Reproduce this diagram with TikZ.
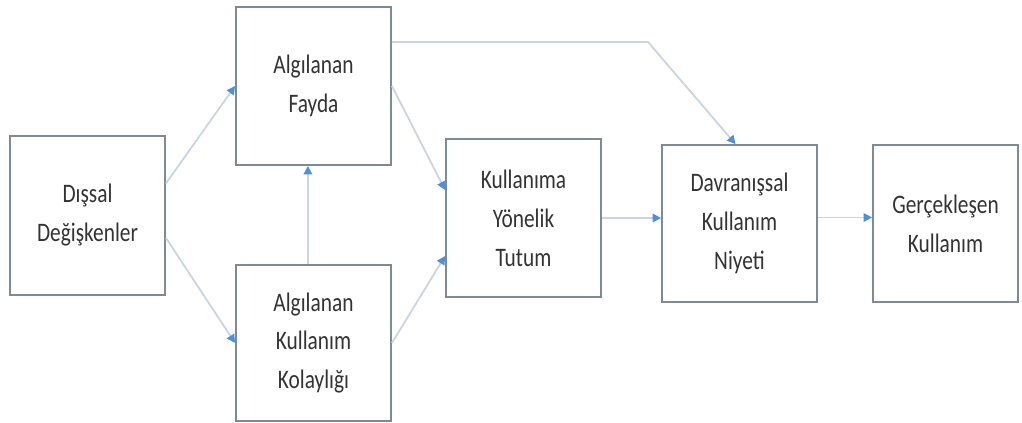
\documentclass[tikz,border=0pt]{standalone}
\usepackage{fontspec}
\setmainfont{Carlito}[FakeStretch=0.8]
\usetikzlibrary{arrows.meta}
\definecolor{boxgray}{HTML}{7D8A97}
\definecolor{linegray}{HTML}{C9D6DF}
\definecolor{tipblue}{HTML}{4F8FD6}
\definecolor{txtgray}{HTML}{333333}
\begin{document}
\begin{tikzpicture}[
  box/.style={draw=boxgray, line width=1.3pt, fill=white, align=center, text=txtgray,
    font=\fontsize{19}{27.7}\selectfont, minimum width=3.875cm, inner sep=0pt},
  arr/.style={draw=linegray, line width=1.3pt, -{Triangle[color=tipblue,length=6pt,width=6pt]}}]
\useasboundingbox (0,0) rectangle (25.55,10.575);
\node[box, minimum height=3.975cm] (D) at (2.1875,5.1875) {Dışsal\\Değişkenler};
\node[box, minimum height=3.95cm] (AF) at (7.8375,8.425) {Algılanan\\Fayda};
\node[box, minimum height=3.9cm] (AK) at (7.8375,2.0) {Algılanan\\Kullanım\\Kolaylığı};
\node[box, minimum height=3.95cm] (KT) at (13.0875,5.125) {Kullanıma\\Yönelik\\Tutum};
\node[box, minimum height=3.925cm] (DKN) at (18.4875,4.9875) {Davranışsal\\Kullanım\\Niyeti};
\node[box, minimum height=3.925cm, minimum width=3.625cm] (G) at (23.6375,4.9875) {Gerçekleşen\\Kullanım};
\coordinate (bend) at (16.2,9.525);
\draw[arr] ([yshift=0.8cm]D.east) -- (AF.west);
\draw[arr] ([yshift=-0.56cm]D.east) -- (AK.west);
\draw[arr] ([xshift=-0.14cm]AK.north) -- ([xshift=-0.14cm]AF.south);
\draw[arr] (AF.east) -- ([yshift=0.7cm]KT.west);
\draw[arr] (AK.east) -- ([yshift=-0.95cm]KT.west);
\draw[arr] ([yshift=1.1cm]AF.east) -- (bend) -- ([xshift=-0.1cm]DKN.north);
\draw[arr] (KT.east) -- (KT.east -| DKN.west);
\draw[arr] ([yshift=0.15cm]DKN.east) -- ([yshift=0.15cm]G.west);
\end{tikzpicture}
\end{document}
